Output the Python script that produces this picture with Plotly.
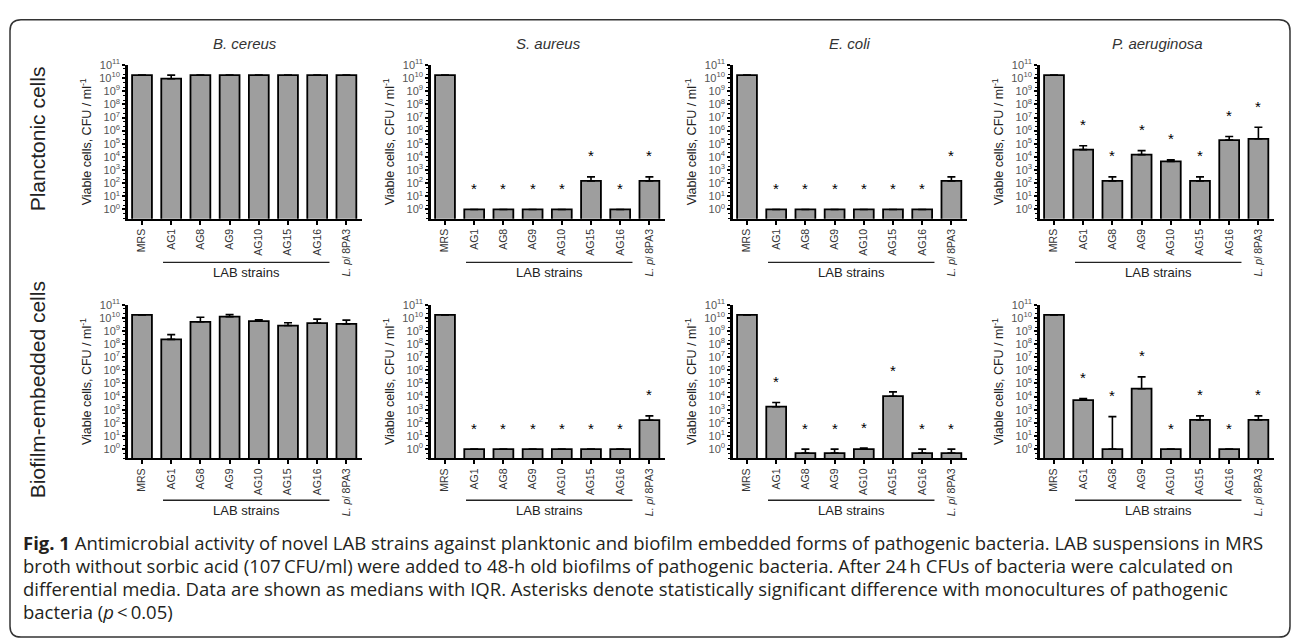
import math
import plotly.graph_objects as go

W, H = 1292, 639

# ---------------- data ----------------
strains = ["MRS", "AG1", "AG8", "AG9", "AG10", "AG15", "AG16", "<i>L. pl</i> 8PA3"]
pathogens = ["B. cereus", "S. aureus", "E. coli", "P. aeruginosa"]
row_labels = ["Planctonic cells", "Biofilm-embedded cells"]
group_label = "LAB strains"
y_title = "Viable cells, CFU / ml<sup>-1</sup>"
y_exponents = list(range(0, 12))

# Planktonic cells: medians and upper quartiles (CFU/ml)
plank_bc = [1.7e10, 9.0e9, 1.7e10, 1.7e10, 1.7e10, 1.7e10, 1.7e10, 1.7e10]
plank_bc_q3 = [1.7e10, 1.7e10, 1.7e10, 1.7e10, 1.7e10, 1.7e10, 1.7e10, 1.7e10]
plank_bc_sig = [0, 0, 0, 0, 0, 0, 0, 0]

plank_sa = [1.7e10, 1, 1, 1, 1, 150, 1, 150]
plank_sa_q3 = [1.7e10, 1, 1, 1, 1, 300, 1, 300]
plank_sa_sig = [0, 1, 1, 1, 1, 1, 1, 1]

plank_ec = [1.7e10, 1, 1, 1, 1, 1, 1, 150]
plank_ec_q3 = [1.7e10, 1, 1, 1, 1, 1, 1, 300]
plank_ec_sig = [0, 1, 1, 1, 1, 1, 1, 1]

plank_pa = [1.7e10, 3.6e4, 150, 1.5e4, 4.6e3, 150, 1.9e5, 2.4e5]
plank_pa_q3 = [1.7e10, 7.0e4, 300, 3.0e4, 6.0e3, 300, 3.6e5, 1.8e6]
plank_pa_sig = [0, 1, 1, 1, 1, 1, 1, 1]

# Biofilm-embedded cells
bio_bc = [1.7e10, 2.3e8, 5.0e9, 1.25e10, 5.6e9, 2.6e9, 4.0e9, 3.5e9]
bio_bc_q3 = [1.7e10, 5.3e8, 1.1e10, 1.8e10, 7.0e9, 4.2e9, 8.0e9, 6.7e9]
bio_bc_sig = [0, 0, 0, 0, 0, 0, 0, 0]

bio_sa = [1.7e10, 1, 1, 1, 1, 1, 1, 160]
bio_sa_q3 = [1.7e10, 1, 1, 1, 1, 1, 1, 340]
bio_sa_sig = [0, 1, 1, 1, 1, 1, 1, 1]

bio_ec = [1.7e10, 1.7e3, 0.5, 0.5, 1, 1.07e4, 0.5, 0.5]
bio_ec_q3 = [1.7e10, 3.6e3, 1, 1, 1.2, 2.3e4, 1, 1]
bio_ec_sig = [0, 1, 1, 1, 1, 1, 1, 1]

bio_pa = [1.7e10, 5.4e3, 1, 4.0e4, 1, 170, 1, 170]
bio_pa_q3 = [1.7e10, 7.2e3, 300, 3.2e5, 1, 340, 1, 340]
bio_pa_sig = [0, 1, 1, 1, 1, 1, 1, 1]

caption_lines = [
    "<b>Fig. 1</b> Antimicrobial activity of novel LAB strains against planktonic and biofilm embedded forms of pathogenic bacteria. LAB suspensions in MRS",
    "broth without sorbic acid (107\u2009CFU/ml) were added to 48-h old biofilms of pathogenic bacteria. After 24\u2009h CFUs of bacteria were calculated on",
    "differential media. Data are shown as medians with IQR. Asterisks denote statistically significant difference with monocultures of pathogenic",
    "bacteria (<i>p</i>\u2009&lt;\u20090.05)",
]

panels = [
    [(plank_bc, plank_bc_q3, plank_bc_sig), (plank_sa, plank_sa_q3, plank_sa_sig),
     (plank_ec, plank_ec_q3, plank_ec_sig), (plank_pa, plank_pa_q3, plank_pa_sig)],
    [(bio_bc, bio_bc_q3, bio_bc_sig), (bio_sa, bio_sa_q3, bio_sa_sig),
     (bio_ec, bio_ec_q3, bio_ec_sig), (bio_pa, bio_pa_q3, bio_pa_sig)],
]

# ---------------- layout geometry (pixels) ----------------
FONT = "Arial, Liberation Sans, sans-serif"
col_first_bar = [142, 445, 747, 1054]
cat_px = 29.2
x_lo, x_hi = -0.47, 7.53
row_px = [(57.7, 213.3), (300.5, 456.0)]
y_range = [-0.7, 11.0]
line_y_px = [257.5, 498.5]
lab_text_px = [268, 509]


def px_x(p):
    return p / W


def px_y(p):
    return 1 - p / H


fig = go.Figure()
layout = dict(
    width=W, height=H, margin=dict(l=0, r=0, t=0, b=0),
    paper_bgcolor="white", plot_bgcolor="white", showlegend=False,
)
annotations = []
shapes = []

for r in range(2):
    for c in range(4):
        idx = r * 4 + c + 1
        xa = "x" if idx == 1 else f"x{idx}"
        ya = "y" if idx == 1 else f"y{idx}"
        med, q3, sig = panels[r][c]
        err_plus = [q - m for q, m in zip(q3, med)]
        fig.add_trace(go.Bar(
            x=strains, y=med, xaxis=xa, yaxis=ya, width=0.68,
            marker=dict(color="#9e9e9e", line=dict(color="black", width=1.8)),
            error_y=dict(type="data", symmetric=False, array=err_plus,
                         arrayminus=[0] * len(med), color="black",
                         thickness=1.6, width=4),
            hoverinfo="skip",
        ))
        left = col_first_bar[c] + x_lo * cat_px
        right = left + (x_hi - x_lo) * cat_px
        top, bot = row_px[r]
        layout["xaxis" if idx == 1 else f"xaxis{idx}"] = dict(
            domain=[px_x(left), px_x(right)], anchor=ya,
            type="category", range=[x_lo, x_hi],
            showline=True, linewidth=2, linecolor="black",
            ticks="outside", ticklen=4, tickwidth=1.5, tickcolor="black",
            tickangle=-90, tickfont=dict(family=FONT, size=10.5, color="#333"),
            showgrid=False, zeroline=False, fixedrange=True,
        )
        layout["yaxis" if idx == 1 else f"yaxis{idx}"] = dict(
            domain=[px_y(bot), px_y(top)], anchor=xa,
            type="log", range=y_range,
            tickmode="array",
            tickvals=[10 ** k for k in y_exponents],
            ticktext=[f"10<sup>{k}</sup>" for k in y_exponents],
            tickfont=dict(family=FONT, size=11, color="#555"),
            showline=True, linewidth=3, linecolor="black",
            ticks="outside", ticklen=3, tickwidth=2, tickcolor="black",
            minor=dict(ticks="outside", ticklen=2, tickwidth=1, tickcolor="black",
                       tickmode="linear", dtick="D2"),
            showgrid=False, zeroline=False, fixedrange=True,
            title=dict(text=y_title, font=dict(family=FONT, size=12.5, color="#222"),
                       standoff=5),
        )
        # significance asterisks
        for i, s in enumerate(sig):
            if s:
                annotations.append(dict(
                    x=i, y=math.log10(q3[i]), xref=xa, yref=ya, text="*",
                    showarrow=False, yanchor="middle", yshift=21,
                    font=dict(family=FONT, size=15, color="black"),
                ))
        # LAB strains bracket
        shapes.append(dict(type="line", xref=xa, yref="paper",
                           x0=0.72, x1=6.42, y0=px_y(line_y_px[r]), y1=px_y(line_y_px[r]),
                           line=dict(color="#222", width=1.3)))
        annotations.append(dict(
            x=3.57, y=px_y(lab_text_px[r]), xref=xa, yref="paper", text=group_label,
            showarrow=False, yanchor="middle", xanchor="center",
            font=dict(family=FONT, size=13, color="#222"),
        ))
        if r == 0:
            annotations.append(dict(
                x=(px_x(left) + px_x(right)) / 2, y=px_y(36), xref="paper", yref="paper",
                text=f"<i>{pathogens[c]}</i>", showarrow=False,
                xanchor="center", yanchor="middle",
                font=dict(family=FONT, size=15, color="#333"),
            ))

# row labels
for r, (lab, ypx) in enumerate(zip(row_labels, [133, 387])):
    annotations.append(dict(
        x=px_x(37), y=px_y(ypx), xref="paper", yref="paper", text=lab,
        textangle=-90, showarrow=False, xanchor="center", yanchor="middle",
        font=dict(family=FONT, size=21, color="#222"),
    ))

# caption
for k, line in enumerate(caption_lines):
    annotations.append(dict(
        x=px_x(21), y=px_y(541 + k * 23.5), xref="paper", yref="paper", text=line,
        showarrow=False, xanchor="left", yanchor="middle", align="left",
        font=dict(family="Open Sans, Noto Sans, sans-serif", size=18.5, color="#231f20"),
    ))

# outer rounded frame
L, T, R, B, rad = 10, 12, 1290, 637, 11


def P(x, y):
    return f"{px_x(x):.5f},{px_y(y):.5f}"


path = (f"M {P(L + rad, T)} L {P(R - rad, T)} Q {P(R, T)} {P(R, T + rad)} "
        f"L {P(R, B - rad)} Q {P(R, B)} {P(R - rad, B)} "
        f"L {P(L + rad, B)} Q {P(L, B)} {P(L, B - rad)} "
        f"L {P(L, T + rad)} Q {P(L, T)} {P(L + rad, T)} Z")
shapes.append(dict(type="path", xref="paper", yref="paper", path=path,
                   line=dict(color="#333", width=1.5), layer="below"))

layout["annotations"] = annotations
layout["shapes"] = shapes
fig.update_layout(**layout)
fig.write_html("out.html", config={"displayModeBar": False},
               post_script="document.body.style.margin='0';document.body.style.padding='0';")
